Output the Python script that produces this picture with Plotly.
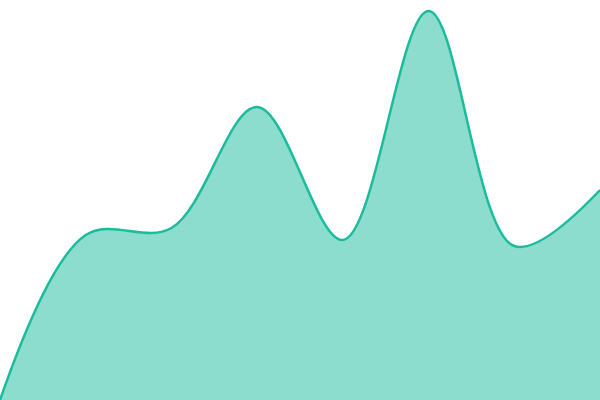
import plotly.graph_objects as go

# values (pixel height above the bottom edge)
x_vals = [0, 1, 2, 3, 4, 5, 6, 7]
y_vals = [0, 165, 172, 293, 160, 389, 154, 210]

LINE_COLOR = "#1abc9c"
FILL_COLOR = "rgba(26,188,156,0.5)"

fig = go.Figure()
fig.add_trace(go.Scatter(
    x=x_vals,
    y=y_vals,
    mode="lines",
    line=dict(color=LINE_COLOR, width=2.5, shape="spline", smoothing=1.0),
    fill="tozeroy",
    fillcolor=FILL_COLOR,
    hoverinfo="skip",
))

fig.update_layout(
    width=600,
    height=400,
    margin=dict(l=0, r=0, t=0, b=0),
    paper_bgcolor="white",
    plot_bgcolor="white",
    showlegend=False,
    xaxis=dict(visible=False, range=[0, 7], fixedrange=True),
    yaxis=dict(visible=False, range=[0, 400], fixedrange=True),
)

# drop the browser's default body margin so the chart sits flush in the window
fig.write_html(
    "out.html",
    config={"displayModeBar": False, "staticPlot": True},
    post_script="document.body.style.margin='0';",
)
